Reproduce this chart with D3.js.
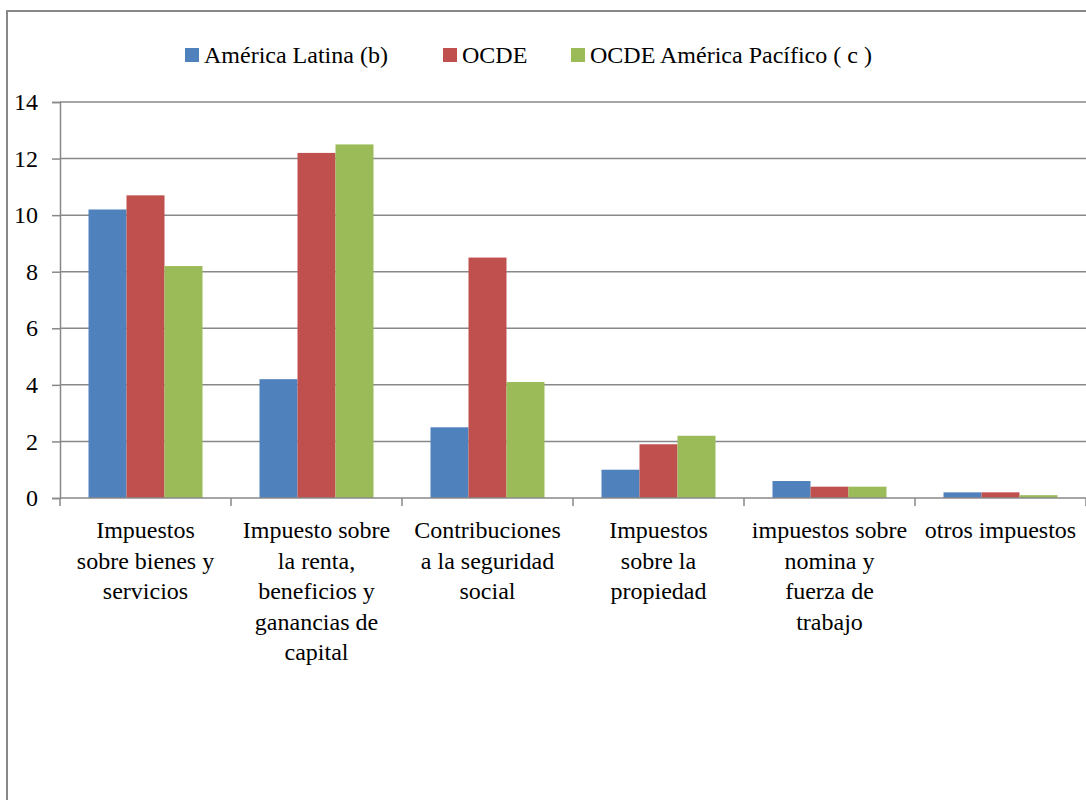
<!DOCTYPE html>
<html>
<head>
<meta charset="utf-8">
<script src="https://cdn.jsdelivr.net/npm/d3@7"></script>
</head>
<body style="margin:0">
<svg id="chart" width="1086" height="800" font-family="Liberation Serif"></svg>
<script>
// Tax structure by type of tax (% of GDP)
const categories = [
  "Impuestos sobre bienes y servicios",
  "Impuesto sobre la renta, beneficios y ganancias de capital",
  "Contribuciones a la seguridad social",
  "Impuestos sobre la propiedad",
  "impuestos sobre nomina y fuerza de trabajo",
  "otros impuestos"
];
// Category labels as wrapped on the axis
const categoryLines = [
  ["Impuestos", "sobre bienes y", "servicios"],
  ["Impuesto sobre", "la renta,", "beneficios y", "ganancias de", "capital"],
  ["Contribuciones", "a la seguridad", "social"],
  ["Impuestos", "sobre la", "propiedad"],
  ["impuestos sobre", "nomina y", "fuerza de", "trabajo"],
  ["otros impuestos"]
];
const seriesNames = ["América Latina (b)", "OCDE", "OCDE América Pacífico ( c )"];
const americaLatina = [10.2, 4.2, 2.5, 1.0, 0.6, 0.2];
const ocde = [10.7, 12.2, 8.5, 1.9, 0.4, 0.2];
const ocdeAmericaPacifico = [8.2, 12.5, 4.1, 2.2, 0.4, 0.1];
const yTicks = [0, 2, 4, 6, 8, 10, 12, 14];

const seriesValues = [americaLatina, ocde, ocdeAmericaPacifico];
const colors = ["#4F81BD", "#C0504D", "#9BBB59"];
const axisGray = "#888888";
const fontName = "Liberation Serif";

const svg = d3.select("#chart");

// outer chart frame (runs off the right and bottom edges)
svg.append("path")
  .attr("d", "M7,800 V11 H1086")
  .attr("fill", "none").attr("stroke", axisGray).attr("stroke-width", 2);

const plot = { left: 60, right: 1086, top: 102, bottom: 498 };

const x = d3.scaleBand()
  .domain(categories)
  .range([plot.left, plot.right])
  .paddingInner(1 / 3)
  .paddingOuter(1 / 6);

const xs = d3.scaleBand()
  .domain(d3.range(seriesNames.length))
  .range([0, x.bandwidth()]);

const y = d3.scaleLinear().domain([0, 14]).range([plot.bottom, plot.top]);

// horizontal gridlines
svg.append("g")
  .selectAll("line")
  .data(yTicks.filter(d => d > 0))
  .join("line")
  .attr("x1", plot.left).attr("x2", plot.right)
  .attr("y1", d => y(d)).attr("y2", d => y(d))
  .attr("stroke", axisGray).attr("stroke-width", 1.5);

// bars
const groups = svg.append("g")
  .selectAll("g")
  .data(categories)
  .join("g")
  .attr("transform", d => `translate(${x(d)},0)`);

groups.selectAll("rect")
  .data((d, i) => seriesValues.map((vals, s) => ({ s, v: vals[i] })))
  .join("rect")
  .attr("x", d => xs(d.s))
  .attr("width", xs.bandwidth())
  .attr("y", d => y(d.v))
  .attr("height", d => y(0) - y(d.v))
  .attr("fill", d => colors[d.s]);

// y axis
const yAxis = svg.append("g")
  .attr("transform", `translate(${plot.left},0)`)
  .call(d3.axisLeft(y).tickValues(yTicks).tickSize(8).tickPadding(14).tickFormat(d3.format("d")));
yAxis.attr("font-family", fontName).attr("font-size", 24);
yAxis.select(".domain").attr("stroke", axisGray).attr("stroke-width", 1.5);
yAxis.selectAll(".tick line").attr("stroke", axisGray).attr("stroke-width", 1.5);
yAxis.selectAll(".tick text")
  .attr("font-family", fontName)
  .style("font-family", fontName)
  .style("font-size", "24px")
  .attr("fill", "#000");

// x axis line and category separators
const step = x.step();
const boundaries = d3.range(categories.length + 1).map(i => plot.left + i * step);
svg.append("line")
  .attr("x1", plot.left).attr("x2", plot.right)
  .attr("y1", y(0)).attr("y2", y(0))
  .attr("stroke", axisGray).attr("stroke-width", 1.5);
svg.append("g")
  .selectAll("line")
  .data(boundaries)
  .join("line")
  .attr("x1", d => d).attr("x2", d => d)
  .attr("y1", y(0)).attr("y2", y(0) + 8)
  .attr("stroke", axisGray).attr("stroke-width", 1.5);

// category labels, one text per line
const labelRows = categories.flatMap((c, i) =>
  categoryLines[i].map((line, k) => ({ c, line, k })));
svg.append("g")
  .selectAll("text")
  .data(labelRows)
  .join("text")
  .attr("x", d => x(d.c) + x.bandwidth() / 2)
  .attr("y", d => 538 + d.k * 30.5)
  .attr("text-anchor", "middle")
  .attr("font-family", fontName)
  .style("font-family", fontName)
  .style("font-size", "24px")
  .text(d => d.line);

// legend
const legendX = [185, 443, 571];
const legend = svg.append("g")
  .selectAll("g")
  .data(seriesNames)
  .join("g")
  .attr("transform", (d, i) => `translate(${legendX[i]},0)`);
legend.append("rect")
  .attr("x", 0).attr("y", 48)
  .attr("width", 14).attr("height", 14)
  .attr("fill", (d, i) => colors[i]);
legend.append("text")
  .attr("x", 19).attr("y", 63)
  .attr("font-family", fontName)
  .style("font-family", fontName)
  .style("font-size", "24px")
  .text(d => d);
</script>
</body>
</html>
